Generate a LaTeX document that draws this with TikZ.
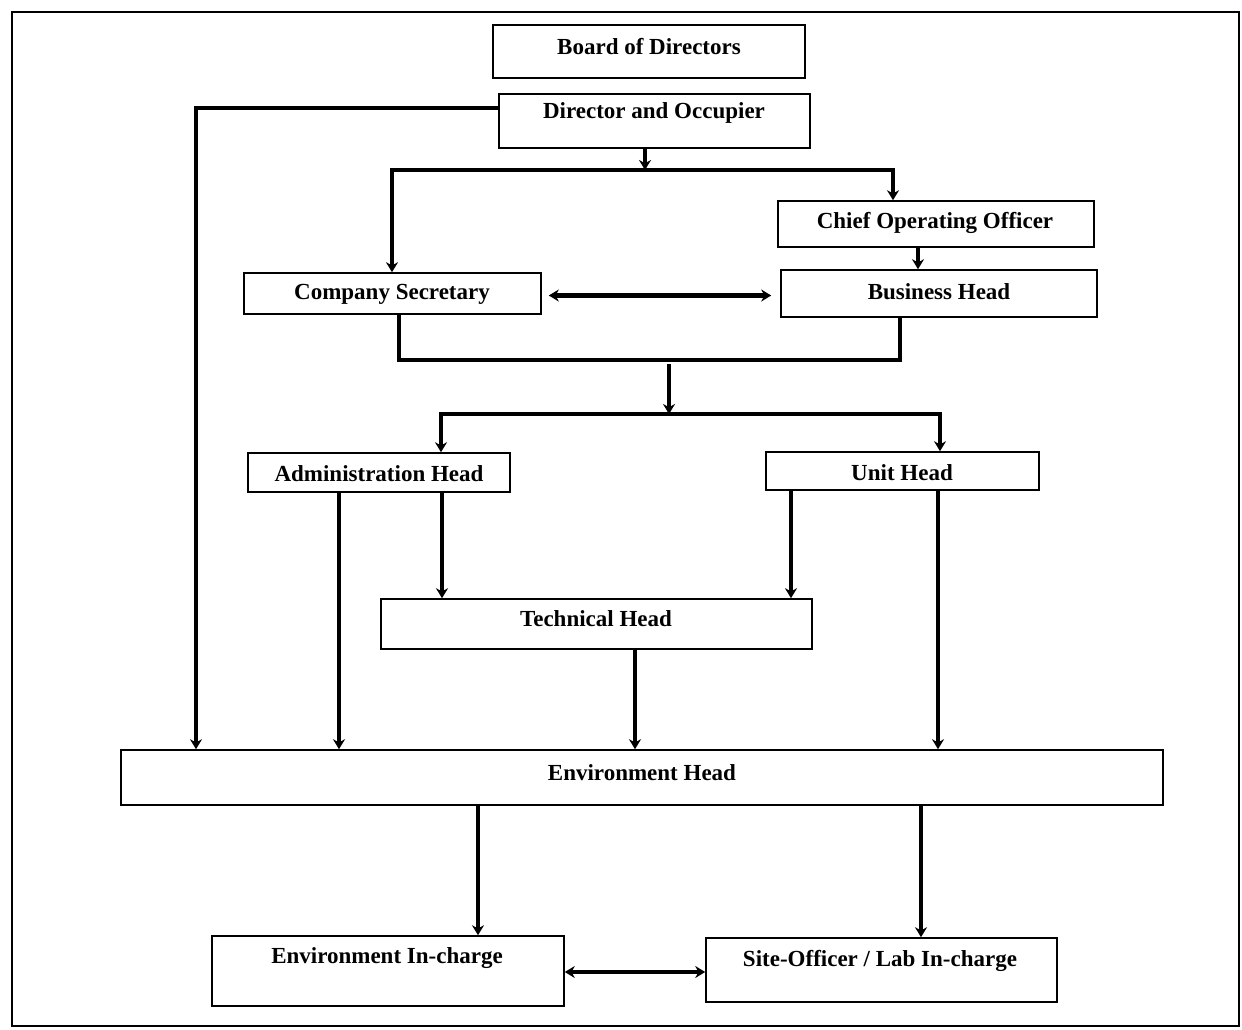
\documentclass[tikz,border=0pt]{standalone}
\usepackage{fontspec}
\setmainfont{Liberation Serif}
\usetikzlibrary{arrows.meta}
\tikzset{
  box/.style={draw, line width=1.6pt, inner sep=0pt},
  lbl/.style={font=\fontsize{23}{26}\selectfont\bfseries, inner sep=0pt},
  arr/.style={line width=4.5pt, line join=miter, -{Stealth[length=10pt,width=12pt]}},
  darr/.style={line width=4.5pt, line join=miter, {Stealth[length=10pt,width=12pt]}-{Stealth[length=10pt,width=12pt]}},
  bus/.style={line width=4.5pt, line join=miter}
}
\begin{document}
\begin{tikzpicture}[x=1pt,y=-1pt]
\useasboundingbox (0,0) rectangle (1242,1029);
\draw[line width=1.5pt] (12,12) rectangle (1239,1026);
% boxes
\node[box, minimum width=312pt, minimum height=53pt] (bod) at (649,51.5) {};
\node[box, minimum width=311pt, minimum height=54pt] (doo) at (654.5,121) {};
\node[box, minimum width=316pt, minimum height=46pt] (coo) at (936,224) {};
\node[box, minimum width=297pt, minimum height=41pt] (cs) at (392.5,293.5) {};
\node[box, minimum width=316pt, minimum height=47pt] (bh) at (939,293.5) {};
\node[box, minimum width=262pt, minimum height=39pt] (ah) at (379,472.5) {};
\node[box, minimum width=273pt, minimum height=38pt] (uh) at (902.5,471) {};
\node[box, minimum width=431pt, minimum height=50pt] (th) at (596.5,624) {};
\node[box, minimum width=1042pt, minimum height=55pt] (eh) at (642,777.5) {};
\node[box, minimum width=352pt, minimum height=70pt] (eic) at (388,971) {};
\node[box, minimum width=351pt, minimum height=64pt] (so) at (881.5,970) {};
% labels
\node[lbl] (t1) at (649,47) {Board of Directors};
\node[lbl] (t2) at (654,113) {Director and Occupier};
\node[lbl] (t3) at (935,223) {Chief Operating Officer};
\node[lbl] (t4) at (392,294) {Company Secretary};
\node[lbl] (t5) at (939,292) {Business Head};
\node[lbl] (t6) at (379,474) {Administration Head};
\node[lbl] (t7) at (902,473) {Unit Head};
\node[lbl] (t8) at (596,619) {Technical Head};
\node[lbl] (t9) at (642,773) {Environment Head};
\node[lbl] (t10) at (387,958) {Environment In-charge};
\node[lbl] (t11) at (880,961) {Site-Officer / Lab In-charge};
% helper coordinates
\coordinate (xL) at (196,0);
\coordinate (j1) at (645,170);
\coordinate (b1L) at (392,170);
\coordinate (b1R) at (893,170);
\coordinate (xc) at (918,0);
\coordinate (b2L) at (399,360);
\coordinate (b2R) at (900,360);
\coordinate (j2) at (669,364);
\coordinate (b3L) at (441,414);
\coordinate (b3R) at (940,414);
\coordinate (xa1) at (339,0);
\coordinate (xa2) at (442,0);
\coordinate (xu1) at (791,0);
\coordinate (xu2) at (938,0);
\coordinate (xt) at (635,0);
\coordinate (xe1) at (478,0);
\coordinate (xe2) at (921,0);
% connectors
\draw[arr] ([yshift=13pt]doo.west) -| (xL |- eh.north);
\draw[arr] (j1 |- doo.south) -- (j1);
\draw[darr] (b1L |- cs.north) -- (b1L) -- (b1R) -- (b1R |- coo.north);
\draw[arr] (xc |- coo.south) -- (xc |- bh.north);
\draw[darr] ([xshift=7pt,yshift=-2pt]cs.east) -- ([xshift=-9pt,yshift=-2pt]bh.west);
\draw[bus] (b2L |- cs.south) -- (b2L) -- (b2R) -- (b2R |- bh.south);
\draw[arr] (j2) -- (j2 |- b3L);
\draw[darr] (b3L |- ah.north) -- (b3L) -- (b3R) -- (b3R |- uh.north);
\draw[arr] (xa1 |- ah.south) -- (xa1 |- eh.north);
\draw[arr] (xa2 |- ah.south) -- (xa2 |- th.north);
\draw[arr] (xu1 |- uh.south) -- (xu1 |- th.north);
\draw[arr] (xu2 |- uh.south) -- (xu2 |- eh.north);
\draw[arr] (xt |- th.south) -- (xt |- eh.north);
\draw[arr] (xe1 |- eh.south) -- (xe1 |- eic.north);
\draw[arr] (xe2 |- eh.south) -- (xe2 |- so.north);
\draw[darr] ([yshift=-1pt]eic.east) -- ([yshift=-2pt]so.west);
\end{tikzpicture}
\end{document}
